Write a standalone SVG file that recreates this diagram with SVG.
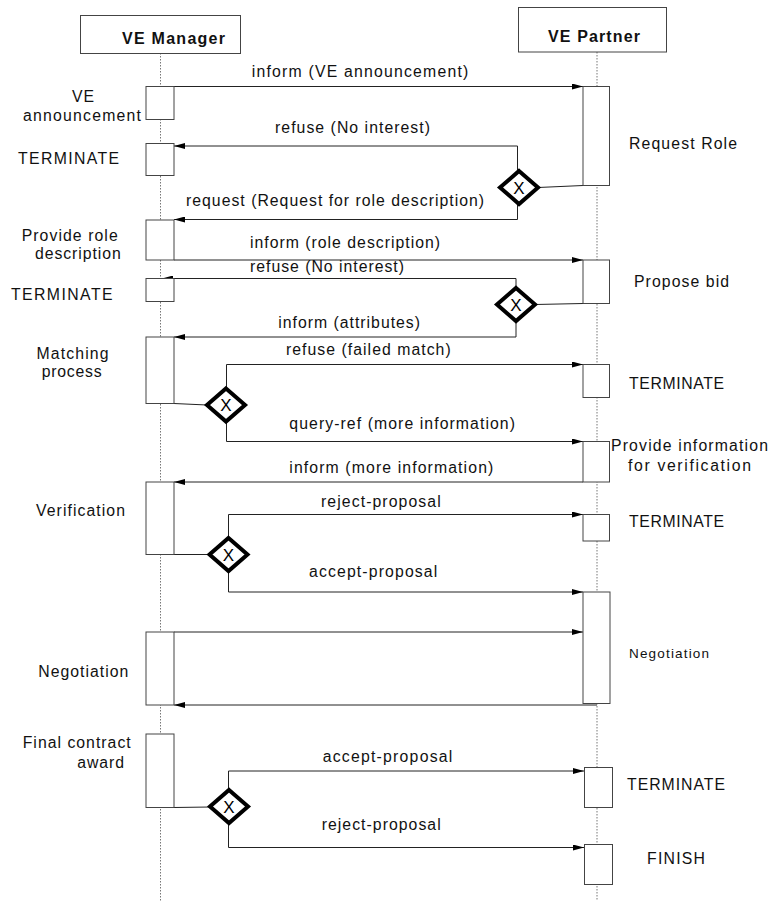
<svg xmlns="http://www.w3.org/2000/svg" width="769" height="901" viewBox="0 0 769 901">
<defs>
<style>
text{font-family:"Liberation Sans",Arial,sans-serif;font-size:15.8px;fill:#111}
.hdr{font-weight:bold;font-size:16px}
.sm{font-size:13.5px}
.box{fill:#fff;stroke:#444;stroke-width:1}
.life{stroke:#777;stroke-width:1;stroke-dasharray:1.5,1.5;fill:none}
.msg{stroke:#222;stroke-width:1;fill:none}
.arr{marker-end:url(#ah)}
.dia{fill:#fff;stroke:#000;stroke-width:4;stroke-linejoin:miter}
.x{font-size:17px;text-anchor:middle;fill:#000}
</style>
<marker id="ah" markerUnits="userSpaceOnUse" markerWidth="11" markerHeight="6" refX="11" refY="3" orient="auto">
<path d="M0,0 L11,3 L0,6 z" fill="#000"/>
</marker>
</defs>
<rect width="769" height="901" fill="#fff"/>

<g id="lifelines">
<line class="life" x1="160.5" y1="53" x2="160.5" y2="901"/>
<line class="life" x1="597" y1="52" x2="597" y2="901"/>
</g>

<g id="manager">
<rect class="box" x="80.5" y="15.5" width="160" height="38"/>
<text class="hdr" x="122" y="44" textLength="103" lengthAdjust="spacing">VE Manager</text>
</g>
<g id="partner">
<rect class="box" x="518.5" y="7.5" width="148" height="44.5"/>
<text class="hdr" x="548" y="41.5" textLength="92" lengthAdjust="spacing">VE Partner</text>
</g>

<g id="connectors">
<line class="msg arr" x1="174" y1="86.5" x2="583" y2="86.5"/>
<polyline class="msg arr" points="517.5,171 517.5,146 174,146"/>
<polyline class="msg arr" points="517.5,204 517.5,219.5 174,219.5"/>
<line class="msg" x1="583" y1="185.5" x2="538" y2="187.5"/>
<line class="msg arr" x1="174" y1="260" x2="583" y2="260"/>
<polyline class="msg arr" points="516,288 516,278.5 162,278.5"/>
<polyline class="msg arr" points="516,321 516,337 174,337"/>
<line class="msg" x1="583" y1="303.5" x2="535" y2="304.5"/>
<line class="msg" x1="174" y1="403.5" x2="207" y2="405"/>
<polyline class="msg arr" points="226.5,388.5 226.5,364.5 583,364.5"/>
<polyline class="msg arr" points="226.5,421.5 226.5,441.5 583,441.5"/>
<line class="msg arr" x1="583" y1="482" x2="174" y2="482"/>
<line class="msg" x1="174" y1="554.5" x2="209.5" y2="554.5"/>
<polyline class="msg arr" points="228.5,538 228.5,514.5 583,514.5"/>
<polyline class="msg arr" points="228.5,571 228.5,592 583,592"/>
<line class="msg arr" x1="174" y1="632" x2="583" y2="632"/>
<line class="msg arr" x1="597" y1="705" x2="174" y2="705"/>
<line class="msg" x1="174" y1="807.5" x2="210" y2="807"/>
<polyline class="msg arr" points="228.5,790 228.5,771 584,771"/>
<polyline class="msg arr" points="228.5,823 228.5,847.5 584,847.5"/>
</g>

<g id="msg-labels">
<text x="251.7" y="76.7" textLength="216.6" lengthAdjust="spacing">inform (VE announcement)</text>
<text x="275" y="132.7" textLength="155" lengthAdjust="spacing">refuse (No interest)</text>
<text x="186" y="206" textLength="298" lengthAdjust="spacing">request (Request for role description)</text>
<text x="250" y="248.3" textLength="190" lengthAdjust="spacing">inform (role description)</text>
<text x="250" y="271.7" textLength="154" lengthAdjust="spacing">refuse (No interest)</text>
<text x="278.3" y="328.3" textLength="141.7" lengthAdjust="spacing">inform (attributes)</text>
<text x="286" y="355" textLength="164.7" lengthAdjust="spacing">refuse (failed match)</text>
<text x="289.3" y="429" textLength="225.7" lengthAdjust="spacing">query-ref (more information)</text>
<text x="289.3" y="472.7" textLength="204" lengthAdjust="spacing">inform (more information)</text>
<text x="321" y="506.7" textLength="119.7" lengthAdjust="spacing">reject-proposal</text>
<text x="309" y="577.3" textLength="128.3" lengthAdjust="spacing">accept-proposal</text>
<text x="322.7" y="761.7" textLength="129.6" lengthAdjust="spacing">accept-proposal</text>
<text x="321.7" y="830" textLength="119" lengthAdjust="spacing">reject-proposal</text>
</g>

<g id="m-announce">
<rect class="box" x="146" y="86.5" width="28" height="33"/>
<text x="72" y="101.5" textLength="22" lengthAdjust="spacing">VE</text>
<text x="23" y="120.5" textLength="118" lengthAdjust="spacing">announcement</text>
</g>
<g id="m-terminate1">
<rect class="box" x="146" y="143.5" width="28" height="32"/>
<text x="18" y="164.3" textLength="101" lengthAdjust="spacing">TERMINATE</text>
</g>
<g id="m-provide-role">
<rect class="box" x="146" y="220" width="28" height="40"/>
<text x="21.7" y="240.5" textLength="96" lengthAdjust="spacing">Provide role</text>
<text x="35" y="258.8" textLength="85.7" lengthAdjust="spacing">description</text>
</g>
<g id="m-terminate2">
<rect class="box" x="146" y="278.5" width="28" height="23"/>
<text x="11" y="300" textLength="101.5" lengthAdjust="spacing">TERMINATE</text>
</g>
<g id="m-matching">
<rect class="box" x="146" y="337" width="28" height="66.5"/>
<text x="36.5" y="358.5" textLength="72" lengthAdjust="spacing">Matching</text>
<text x="41.7" y="377" textLength="60" lengthAdjust="spacing">process</text>
</g>
<g id="m-verification">
<rect class="box" x="146" y="482" width="28" height="72.5"/>
<text x="36" y="516" textLength="89" lengthAdjust="spacing">Verification</text>
</g>
<g id="m-negotiation">
<rect class="box" x="146" y="632" width="28" height="73"/>
<text x="38.3" y="676.5" textLength="90" lengthAdjust="spacing">Negotiation</text>
</g>
<g id="m-final">
<rect class="box" x="146" y="734" width="28" height="73.5"/>
<text x="22.7" y="748.3" textLength="108" lengthAdjust="spacing">Final contract</text>
<text x="77.3" y="767.7" textLength="46.7" lengthAdjust="spacing">award</text>
</g>

<g id="p-request-role">
<rect class="box" x="583" y="86.5" width="26.5" height="99"/>
<text x="629" y="149" textLength="108" lengthAdjust="spacing">Request Role</text>
</g>
<g id="p-propose-bid">
<rect class="box" x="583" y="260" width="26.5" height="43.5"/>
<text x="634" y="286.5" textLength="95" lengthAdjust="spacing">Propose bid</text>
</g>
<g id="p-terminate1">
<rect class="box" x="583" y="364.5" width="26.5" height="33"/>
<text x="629" y="389" textLength="95" lengthAdjust="spacing">TERMINATE</text>
</g>
<g id="p-provide-info">
<rect class="box" x="583" y="441.5" width="26.5" height="40.5"/>
<text x="611" y="451" textLength="157" lengthAdjust="spacing">Provide information</text>
<text x="628" y="470.5" textLength="123" lengthAdjust="spacing">for verification</text>
</g>
<g id="p-terminate2">
<rect class="box" x="583" y="514.5" width="26.5" height="26.5"/>
<text x="629" y="527" textLength="95" lengthAdjust="spacing">TERMINATE</text>
</g>
<g id="p-negotiation">
<rect class="box" x="583" y="592" width="27" height="111.5"/>
<text class="sm" x="629" y="657.5" textLength="80" lengthAdjust="spacing">Negotiation</text>
</g>
<g id="p-terminate3">
<rect class="box" x="584.5" y="767.5" width="28" height="40"/>
<text x="627" y="790" textLength="98" lengthAdjust="spacing">TERMINATE</text>
</g>
<g id="p-finish">
<rect class="box" x="584.5" y="844.5" width="28" height="40"/>
<text x="647" y="864" textLength="58" lengthAdjust="spacing">FINISH</text>
</g>

<g id="d1">
<path class="dia" d="M519,171 L538,187.5 L519,204 L500,187.5 Z"/>
<text class="x" x="519" y="193.5">X</text>
</g>
<g id="d2">
<path class="dia" d="M516,288 L535,304.5 L516,321 L497,304.5 Z"/>
<text class="x" x="516" y="310.5">X</text>
</g>
<g id="d3">
<path class="dia" d="M226,388.5 L245,405 L226,421.5 L207,405 Z"/>
<text class="x" x="226" y="411">X</text>
</g>
<g id="d4">
<path class="dia" d="M228.5,538 L247.5,554.5 L228.5,571 L209.5,554.5 Z"/>
<text class="x" x="228.5" y="560.5">X</text>
</g>
<g id="d5">
<path class="dia" d="M229,790 L248,806.5 L229,823 L210,806.5 Z"/>
<text class="x" x="229" y="812.5">X</text>
</g>
</svg>
